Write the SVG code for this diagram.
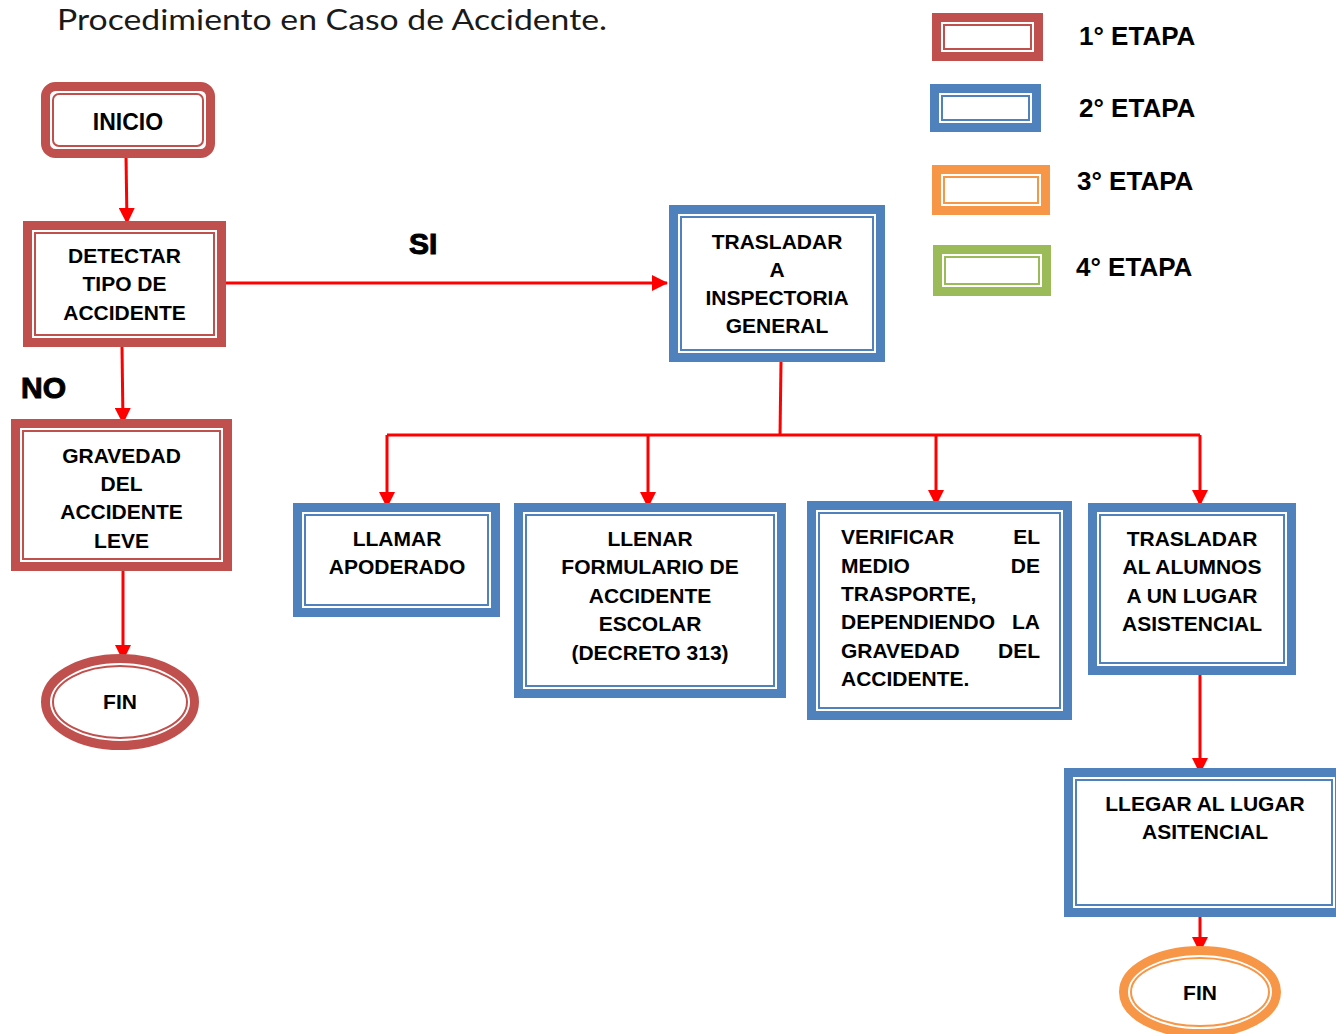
<svg xmlns="http://www.w3.org/2000/svg" width="1336" height="1034" viewBox="0 0 1336 1034">
<defs>
<marker id="ah" viewBox="0 0 16 16" refX="15" refY="8" markerWidth="16" markerHeight="16" markerUnits="userSpaceOnUse" orient="auto">
<path d="M0,0 L16,8 L0,16 Z" fill="#FF0000"/>
</marker>
</defs>
<style>
.o{fill:#fff;stroke-width:9}
.i{fill:none;stroke-width:2}
.red{stroke:#C0504D}
.blue{stroke:#4F81BD}
.orange{stroke:#F79646}
.green{stroke:#9BBB59}
.t{font-family:"Liberation Sans",Arial,sans-serif;font-weight:bold;font-size:21px;fill:#000;text-anchor:middle}
.l{text-anchor:start}
.r{text-anchor:end}
.leg{font-family:"Liberation Sans",Arial,sans-serif;font-weight:bold;font-size:26px;fill:#000}
.big{font-family:"Liberation Sans",Arial,sans-serif;font-weight:bold;font-size:30px;fill:#000;stroke:#000;stroke-width:1}
.title{font-family:Lato,"DejaVu Sans",sans-serif;font-weight:400;font-size:29px;fill:#1a1a1a}
.c{fill:none;stroke:#FF0000;stroke-width:3}
.ca{fill:none;stroke:#FF0000;stroke-width:3;marker-end:url(#ah)}
</style>
<rect width="1336" height="1034" fill="#fff"/>
<text class="title" x="57" y="30" textLength="550" lengthAdjust="spacingAndGlyphs">Procedimiento en Caso de Accidente.</text>

<g id="legend">
<rect class="o red" x="936.5" y="17.5" width="102" height="39"/><rect class="i red" x="944" y="25" width="87" height="24"/>
<text class="leg" x="1079" y="45">1° ETAPA</text>
<rect class="o blue" x="934.5" y="88.5" width="102" height="39"/><rect class="i blue" x="942" y="96" width="87" height="24"/>
<text class="leg" x="1079" y="117">2° ETAPA</text>
<rect class="o orange" x="936.5" y="169.5" width="109" height="41"/><rect class="i orange" x="944" y="177" width="94" height="26"/>
<text class="leg" x="1077" y="190">3° ETAPA</text>
<rect class="o green" x="937.5" y="249.5" width="109" height="42"/><rect class="i green" x="945" y="257" width="94" height="27"/>
<text class="leg" x="1076" y="276">4° ETAPA</text>
</g>

<g id="connectors">
<path class="ca" d="M126 156 L127 223"/>
<path class="ca" d="M226 283 H667"/>
<path class="ca" d="M122 347 L123 423"/>
<path class="ca" d="M123 571 V660"/>
<path class="c" d="M781 362 L780 436"/>
<path class="c" d="M387 435 H1200"/>
<path class="ca" d="M387 435 V507"/>
<path class="ca" d="M648 435 V507"/>
<path class="ca" d="M936 435 V505"/>
<path class="ca" d="M1200 435 V505"/>
<path class="ca" d="M1200 675 V773"/>
<path class="ca" d="M1200 917 V952"/>
</g>

<text class="big" x="409" y="254">SI</text>
<text class="big" x="21" y="398">NO</text>

<g id="inicio">
<rect class="o red" x="45.5" y="86.5" width="165" height="67" rx="10"/>
<rect class="i red" x="53" y="94" width="150" height="52" rx="6"/>
<text class="t" x="128" y="129.5" style="font-size:23px">INICIO</text>
</g>

<g id="detectar">
<rect class="o red" x="27.5" y="225.5" width="194" height="117"/>
<rect class="i red" x="35" y="233" width="179" height="102"/>
<text class="t" x="124.5" y="263">DETECTAR</text>
<text class="t" x="124.5" y="291">TIPO DE</text>
<text class="t" x="124.5" y="320">ACCIDENTE</text>
</g>

<g id="gravedad">
<rect class="o red" x="15.5" y="423.5" width="212" height="143"/>
<rect class="i red" x="23" y="431" width="197" height="128"/>
<text class="t" x="121.5" y="462.5">GRAVEDAD</text>
<text class="t" x="121.5" y="490.5">DEL</text>
<text class="t" x="121.5" y="519">ACCIDENTE</text>
<text class="t" x="121.5" y="547.5">LEVE</text>
</g>

<g id="fin1">
<ellipse class="o red" cx="120" cy="702" rx="74.5" ry="43.5"/>
<ellipse class="i red" cx="120" cy="702" rx="67" ry="36"/>
<text class="t" x="120" y="709">FIN</text>
</g>

<g id="trasladar-inspectoria">
<rect class="o blue" x="673.5" y="209.5" width="207" height="148"/>
<rect class="i blue" x="681" y="217" width="192" height="133"/>
<text class="t" x="777" y="248.5">TRASLADAR</text>
<text class="t" x="777" y="276.5">A</text>
<text class="t" x="777" y="305">INSPECTORIA</text>
<text class="t" x="777" y="333">GENERAL</text>
</g>

<g id="llamar">
<rect class="o blue" x="297.5" y="507.5" width="198" height="105"/>
<rect class="i blue" x="305" y="515" width="183" height="90"/>
<text class="t" x="397" y="546">LLAMAR</text>
<text class="t" x="397" y="574">APODERADO</text>
</g>

<g id="llenar">
<rect class="o blue" x="518.5" y="507.5" width="263" height="186"/>
<rect class="i blue" x="526" y="515" width="248" height="171"/>
<text class="t" x="650" y="546">LLENAR</text>
<text class="t" x="650" y="574">FORMULARIO DE</text>
<text class="t" x="650" y="603">ACCIDENTE</text>
<text class="t" x="650" y="631">ESCOLAR</text>
<text class="t" x="650" y="660">(DECRETO 313)</text>
</g>

<g id="verificar">
<rect class="o blue" x="811.5" y="505.5" width="256" height="210"/>
<rect class="i blue" x="819" y="513" width="241" height="195"/>
<text class="t l" x="841" y="544">VERIFICAR</text><text class="t r" x="1040" y="544">EL</text>
<text class="t l" x="841" y="573">MEDIO</text><text class="t r" x="1040" y="573">DE</text>
<text class="t l" x="841" y="601">TRASPORTE,</text>
<text class="t l" x="841" y="629">DEPENDIENDO</text><text class="t r" x="1040" y="629">LA</text>
<text class="t l" x="841" y="658">GRAVEDAD</text><text class="t r" x="1040" y="658">DEL</text>
<text class="t l" x="841" y="686">ACCIDENTE.</text>
</g>

<g id="trasladar-alumnos">
<rect class="o blue" x="1092.5" y="507.5" width="199" height="163"/>
<rect class="i blue" x="1100" y="515" width="184" height="148"/>
<text class="t" x="1192" y="546">TRASLADAR</text>
<text class="t" x="1192" y="574">AL ALUMNOS</text>
<text class="t" x="1192" y="603">A UN LUGAR</text>
<text class="t" x="1192" y="631">ASISTENCIAL</text>
</g>

<g id="llegar">
<rect class="o blue" x="1068.5" y="772.5" width="271" height="140"/>
<rect class="i blue" x="1076" y="780" width="256" height="125"/>
<text class="t" x="1205" y="811">LLEGAR AL LUGAR</text>
<text class="t" x="1205" y="839">ASITENCIAL</text>
</g>

<g id="fin2">
<ellipse class="o orange" cx="1200" cy="992" rx="76.5" ry="41.5"/>
<ellipse class="i orange" cx="1200" cy="992" rx="69" ry="34"/>
<text class="t" x="1200" y="1000">FIN</text>
</g>
</svg>
